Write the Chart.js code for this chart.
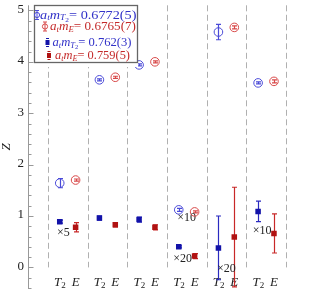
<!DOCTYPE html>
<html>
<head>
<meta charset="utf-8">
<script src="https://cdn.jsdelivr.net/npm/chart.js@4"></script>
<style>
  html, body { margin: 0; padding: 0; background: #fff; }
  #wrap { width: 311px; height: 299px; }
</style>
</head>
<body>
<div id="wrap"><canvas id="c" width="311" height="299"></canvas></div>
<script>
"use strict";

// groups 1..6, T2 drawn at g-0.2, E at g+0.2
const GROUPS = [1, 2, 3, 4, 5, 6];
const X_LABELS = ["T2", "E"];
const Y_TICKS = [0, 1, 2, 3, 4, 5];

const openT2     = [1.64, 3.65, 3.94, 1.12, 4.58, 3.59];
const openT2Err  = [0.09, 0.02, 0.02, 0.03, 0.15, 0.02];
const openE      = [1.70, 3.70, 4.00, 1.08, 4.67, 3.62];
const openEErr   = [0.02, 0.02, 0.02, 0.02, 0.03, 0.03];
const filledT2    = [0.89, 0.96, 0.93, 0.40, 0.38, 1.09];
const filledT2Err = [0.03, 0.04, 0.05, 0.02, 0.62, 0.20];
const filledE     = [0.78, 0.83, 0.78, 0.22, 0.59, 0.66];
const filledEErr  = [0.09, 0.04, 0.05, 0.05, 0.97, 0.38];

// legend values
const LEGEND_VALUES = ["0.6772(5)", "0.6765(7)", "0.762(3)", "0.759(5)"];

// scale-factor notes, in data units
const NOTES = [
  { text: "×5",  x: 0.89, y: 0.67 },
  { text: "×10", x: 4.00, y: 0.96 },
  { text: "×20", x: 3.90, y: 0.16 },
  { text: "×20", x: 5.00, y: -0.02 },
  { text: "×10", x: 5.90, y: 0.72 },
];

const BLUE_OPEN = "#4a4ad8";
const RED_OPEN  = "#d84848";
const BLUE      = "#1212a8";
const RED       = "#b01212";
const SERIF = '"Liberation Serif", "DejaVu Serif", serif';

function pts(vals, err, off) {
  return vals.map((v, i) => ({ x: GROUPS[i] + off, y: v, e: err[i] }));
}

/** Draw a run of pieces [text, italic, size, dy] from x0, stretched to end at x1 (if given). */
function drawRun(ctx, x0, x1, y, parts, color) {
  ctx.save();
  ctx.fillStyle = color;
  ctx.textBaseline = "middle";
  ctx.textAlign = "left";
  let w = 0;
  parts.forEach(([t, it, size]) => {
    ctx.font = (it ? "italic " : "") + size + "px " + SERIF;
    w += ctx.measureText(t).width;
  });
  const sx = x1 ? (x1 - x0) / w : 1;
  ctx.translate(x0, y);
  ctx.scale(sx, 1);
  let x = 0;
  parts.forEach(([t, it, size, dy]) => {
    ctx.font = (it ? "italic " : "") + size + "px " + SERIF;
    ctx.fillText(t, x, dy);
    x += ctx.measureText(t).width;
  });
  ctx.restore();
}

const mT2 = val => [["a", 1, 13.5, 0], ["t", 1, 9, 3], ["m", 1, 13.5, 0],
                    ["T", 1, 9, 3], ["2", 0, 7, 5], ["= " + val, 0, 13.5, 0]];
const mE  = val => [["a", 1, 13.5, 0], ["t", 1, 9, 3], ["m", 1, 13.5, 0],
                    ["E", 1, 9, 3], ["= " + val, 0, 13.5, 0]];

const decor = {
  id: "decor",
  beforeDatasetsDraw(chart) {
    const { ctx, chartArea: a, scales: { x, y } } = chart;
    ctx.save();
    // dashed separators
    ctx.strokeStyle = "#b0b0b0";
    ctx.lineWidth = 1;
    ctx.setLineDash([6, 3.5]);
    for (let g = 0.5; g <= 6.5; g += 1) {
      const px = Math.round(x.getPixelForValue(g)) + 0.5;
      ctx.beginPath();
      ctx.moveTo(px, a.top);
      ctx.lineTo(px, y.getPixelForValue(0));
      ctx.stroke();
    }
    ctx.setLineDash([]);

    // y axis with inward ticks
    const ax = a.left + 0.5;
    ctx.strokeStyle = "#999";
    ctx.beginPath();
    ctx.moveTo(ax, a.top);
    ctx.lineTo(ax, a.bottom);
    ctx.stroke();
    for (let k = -2; k <= 25; k++) {
      const v = k * 0.2;
      if (v < y.min || v > y.max) continue;
      const py = Math.round(y.getPixelForValue(v)) + 0.5;
      const major = k % 5 === 0;
      ctx.beginPath();
      ctx.moveTo(ax, py);
      ctx.lineTo(ax + (major ? 5 : 3), py);
      ctx.stroke();
    }
    ctx.fillStyle = "#222";
    ctx.font = "13px " + SERIF;
    ctx.textAlign = "right";
    ctx.textBaseline = "middle";
    Y_TICKS.forEach(v => ctx.fillText(String(v), 24, y.getPixelForValue(v) - 1));

    // axis title
    ctx.save();
    ctx.translate(7, 147);
    ctx.rotate(-Math.PI / 2);
    ctx.textAlign = "center";
    ctx.font = "italic 13px " + SERIF;
    ctx.fillText("Z", 0, 0);
    ctx.restore();

    // category labels
    const ly = a.bottom - 6;
    GROUPS.forEach(g => {
      const xT = x.getPixelForValue(g - 0.2);
      const xE = x.getPixelForValue(g + 0.2);
      ctx.font = "italic 13px " + SERIF;
      const wT = ctx.measureText("T").width;
      drawRun(ctx, xT - (wT + 4) / 2, null, ly, [["T", 1, 13, 0], [X_LABELS[0].slice(1), 0, 9, 3]], "#222");
      ctx.textAlign = "center";
      ctx.font = "italic 13px " + SERIF;
      ctx.fillText(X_LABELS[1], xE, ly);
    });

    // error bars
    chart.data.datasets.forEach(ds => {
      ds.data.forEach(p => {
        const px = Math.round(x.getPixelForValue(p.x)) + 0.5;
        const hi = y.getPixelForValue(p.y + p.e);
        const lo = y.getPixelForValue(p.y - p.e);
        const clipped = p.y - p.e < y.min;
        ctx.strokeStyle = ds.barColor;
        ctx.globalAlpha = clipped ? 0.45 : 1;
        ctx.lineWidth = 1.2;
        ctx.beginPath();
        ctx.moveTo(px, Math.max(hi, a.top));
        ctx.lineTo(px, Math.min(lo, a.bottom));
        ctx.moveTo(px - 2.5, hi); ctx.lineTo(px + 2.5, hi);
        if (!clipped) { ctx.moveTo(px - 2.5, lo); ctx.lineTo(px + 2.5, lo); }
        ctx.stroke();
        ctx.globalAlpha = 1;
      });
    });

    // notes
    ctx.fillStyle = "#222";
    ctx.font = "12px " + SERIF;
    ctx.textAlign = "center";
    ctx.textBaseline = "middle";
    NOTES.forEach(n => ctx.fillText(n.text, x.getPixelForValue(n.x), y.getPixelForValue(n.y)));
    ctx.restore();
  },
  afterDraw(chart) {
    const { ctx } = chart;
    ctx.save();
    ctx.fillStyle = "#fff";
    ctx.fillRect(34, 5, 104, 62);
    ctx.strokeStyle = "#666";
    ctx.lineWidth = 1.3;
    ctx.strokeRect(34.5, 5.5, 103, 57);

    // markers
    ctx.lineWidth = 1;
    [[37, 15, BLUE_OPEN], [45, 26.5, RED_OPEN]].forEach(([mx, my, c]) => {
      ctx.strokeStyle = c;
      ctx.beginPath(); ctx.arc(mx, my, 2.6, 0, Math.PI * 2); ctx.stroke();
      ctx.beginPath();
      ctx.moveTo(mx, my - 4.5); ctx.lineTo(mx, my + 4.5);
      ctx.moveTo(mx - 2, my - 4.5); ctx.lineTo(mx + 2, my - 4.5);
      ctx.moveTo(mx - 2, my + 4.5); ctx.lineTo(mx + 2, my + 4.5);
      ctx.stroke();
    });
    [[47.5, 42.5, BLUE], [49, 55.5, RED]].forEach(([mx, my, c]) => {
      ctx.fillStyle = c;
      ctx.fillRect(mx - 2, my - 2.5, 4, 5);
      ctx.strokeStyle = c;
      ctx.beginPath();
      ctx.moveTo(mx - 1.5, my - 4); ctx.lineTo(mx + 1.5, my - 4);
      ctx.moveTo(mx - 1.5, my + 4); ctx.lineTo(mx + 1.5, my + 4);
      ctx.stroke();
    });

    drawRun(ctx, 40, 136.5, 15, mT2(LEGEND_VALUES[0]), "#3232c8");
    drawRun(ctx, 50, 136, 26.5, mE(LEGEND_VALUES[1]), "#c42a2a");
    drawRun(ctx, 52.5, 131.5, 42.5, mT2(LEGEND_VALUES[2]), "#3232c8");
    drawRun(ctx, 55, 130, 55.5, mE(LEGEND_VALUES[3]), "#c42a2a");
    ctx.restore();
  },
};

new Chart(document.getElementById("c"), {
  type: "scatter",
  data: {
    datasets: [
      { data: pts(openT2, openT2Err, -0.2), pointStyle: "circle", pointRadius: 4.3,
        borderColor: BLUE_OPEN, backgroundColor: "rgba(0,0,0,0)", borderWidth: 1, barColor: BLUE_OPEN },
      { data: pts(openE, openEErr, 0.2), pointStyle: "circle", pointRadius: 4.3,
        borderColor: RED_OPEN, backgroundColor: "rgba(0,0,0,0)", borderWidth: 1, barColor: RED_OPEN },
      { data: pts(filledT2, filledT2Err, -0.2), pointStyle: "rect", pointRadius: 3.9,
        borderColor: BLUE, backgroundColor: BLUE, borderWidth: 0, barColor: "#2a2ac0" },
      { data: pts(filledE, filledEErr, 0.2), pointStyle: "rect", pointRadius: 3.9,
        borderColor: RED, backgroundColor: RED, borderWidth: 0, barColor: "#c82828" },
    ],
  },
  options: {
    responsive: false,
    animation: false,
    layout: { padding: { left: 28, right: 0, top: 0, bottom: 10 } },
    plugins: { legend: { display: false }, tooltip: { enabled: false } },
    scales: {
      x: { type: "linear", min: 0, max: 7, display: false },
      y: { type: "linear", min: -0.42, max: 5.1, display: false },
    },
  },
  plugins: [decor],
});
</script>
</body>
</html>
